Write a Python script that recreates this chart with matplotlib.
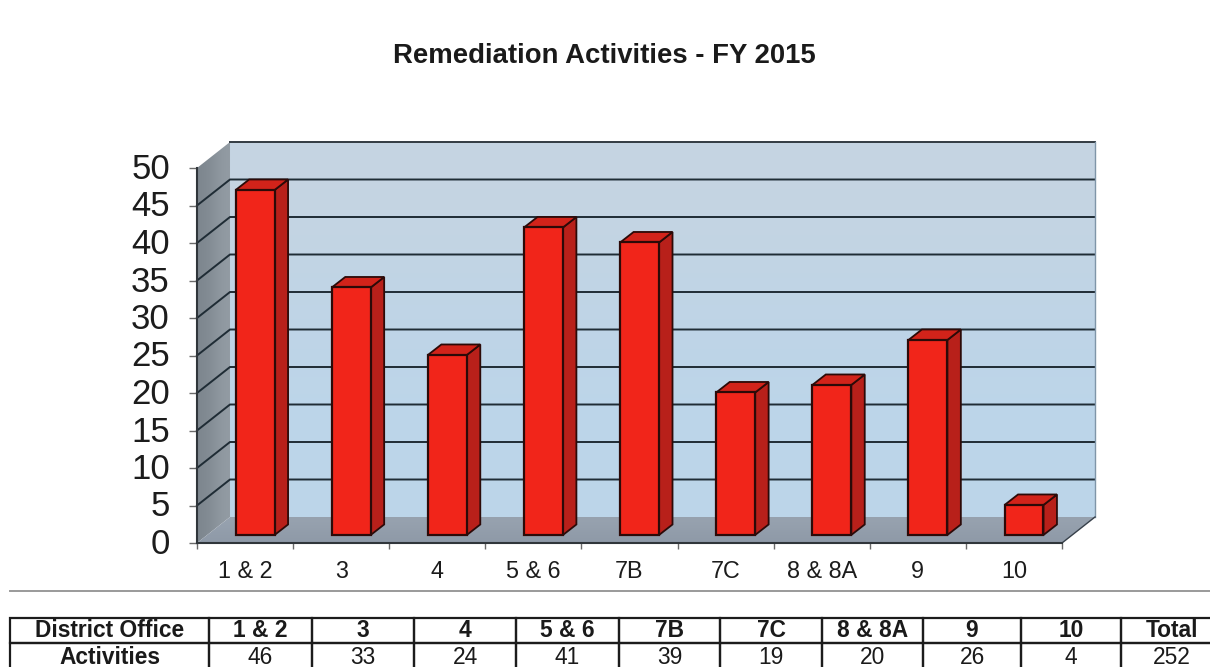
import numpy as np
import matplotlib
matplotlib.use("Agg")
import matplotlib.pyplot as plt
from matplotlib.patches import Polygon
from matplotlib.transforms import ScaledTranslation

plt.rcParams['font.family'] = ['Liberation Sans', 'DejaVu Sans']

offices = ['1 & 2', '3', '4', '5 & 6', '7B', '7C', '8 & 8A', '9', '10']
activities = [46, 33, 24, 41, 39, 19, 20, 26, 4]
total = 252
y_ticks = [0, 5, 10, 15, 20, 25, 30, 35, 40, 45, 50]

W, H = 1210, 667
# 3d look: how far the back wall sits from the front plane, in data units
depth_x = 33 / 96.1
depth_y = 26 / 7.5
bar_w = 0.405
bar_shift_x = 0.105
bar_shift_y = 1.07
bar_dx = 0.14
bar_dy = 1.4


def shade(ax, pts, colors, horizontal=False):
    """Polygon filled with a linear gradient between colors"""
    poly = Polygon(pts, closed=True, fc='none', ec='none', transform=ax.transData, clip_on=False)
    ax.add_patch(poly)
    rgb = np.array([matplotlib.colors.to_rgb(c) for c in colors])
    grad = rgb[:, None, :] if not horizontal else rgb[None, :, :]
    xs = [p[0] for p in pts]
    ys = [p[1] for p in pts]
    im = ax.imshow(grad, extent=[min(xs), max(xs), min(ys), max(ys)], origin='lower',
                   aspect='auto', interpolation='bicubic', zorder=1)
    # the walls stick out of the axes box
    im.set_clip_box(fig.bbox)
    im.set_clip_path(poly)


fig = plt.figure(figsize=(W / 100, H / 100), dpi=100, facecolor='white')
ax = fig.add_axes([197 / W, (H - 543) / H, 865 / W, 375 / H])

# walls and floor
shade(ax, [(depth_x, depth_y), (9 + depth_x, depth_y), (9 + depth_x, 50 + depth_y), (depth_x, 50 + depth_y)],
      ['#bcd6ea', '#bdd5e9', '#c0d4e5', '#c6d5e2'])
shade(ax, [(0, 0), (depth_x, depth_y), (depth_x, 50 + depth_y), (0, 50)],
      ['#7d868e', '#939ca4'], horizontal=True)
shade(ax, [(0, 0), (9, 0), (9 + depth_x, depth_y), (depth_x, depth_y)],
      ['#8f9aa8', '#97a2af'])

grid_c = '#1f2c35'
for v in y_ticks[1:-1]:
    ax.plot([0, depth_x, 9 + depth_x], [v, v + depth_y, v + depth_y], color=grid_c, lw=1.4, zorder=2,
            clip_on=False)
ax.plot([depth_x, 9 + depth_x], [50 + depth_y] * 2, color='#333b42', lw=1.4, zorder=2, clip_on=False)
ax.plot([9 + depth_x, 9 + depth_x], [depth_y, 50 + depth_y], color='#7f95a8', lw=1.0, zorder=2, clip_on=False)
ax.plot([9, 9 + depth_x], [0, depth_y], color='#37404a', lw=1.0, zorder=2, clip_on=False)

# bars
edge = '#2c0a08'
for i, val in enumerate(activities):
    x0 = i + (1 - bar_w) / 2 + bar_shift_x
    x1 = x0 + bar_w
    y0 = bar_shift_y
    y1 = y0 + val
    ax.add_patch(Polygon([(x1, y0), (x1 + bar_dx, y0 + bar_dy), (x1 + bar_dx, y1 + bar_dy), (x1, y1)],
                         fc='#b8201a', ec=edge, lw=1.3, zorder=3, clip_on=False))
    ax.add_patch(Polygon([(x0, y1), (x1, y1), (x1 + bar_dx, y1 + bar_dy), (x0 + bar_dx, y1 + bar_dy)],
                         fc='#d2231a', ec=edge, lw=1.3, zorder=3, clip_on=False))
    ax.add_patch(Polygon([(x0, y0), (x1, y0), (x1, y1), (x0, y1)],
                         fc='#f1251a', ec=edge, lw=1.6, zorder=4, clip_on=False))

ax.set_xlim(0, 9)
ax.set_ylim(0, 50)
ax.patch.set_visible(False)
for s in ['top', 'right']:
    ax.spines[s].set_visible(False)
for s in ['left', 'bottom']:
    ax.spines[s].set_color('#30363b')
    ax.spines[s].set_linewidth(1.5)
    ax.spines[s].set_zorder(5)

ax.set_yticks(y_ticks)
ax.tick_params(axis='y', direction='out', length=6, width=1, color='#6a6a6a', pad=13.5,
               labelsize=25, labelcolor='#1c1c1c')
for lbl in ax.get_yticklabels():
    lbl.set_transform(lbl.get_transform() + ScaledTranslation(0, 2 / 100, fig.dpi_scale_trans))
ax.set_xticks(np.arange(10))
ax.set_xticklabels([])
ax.tick_params(axis='x', which='major', direction='out', length=4, width=1, color='#6a6a6a')
ax.set_xticks(np.arange(9) + 0.5, minor=True)
ax.set_xticklabels(offices, minor=True)
ax.tick_params(axis='x', which='minor', length=0, pad=12.5, labelsize=16.8, labelcolor='#1c1c1c')

fig.text(604 / W, 1 - 56 / H, 'Remediation Activities - FY 2015', ha='center', va='center',
         fontsize=19.8, fontweight='bold', color='#1a1a1a')

# rule above the table
fig.add_artist(plt.Line2D([10 / W, 1], [1 - 591 / H] * 2, color='#9a9a9a', lw=1.4))

# table, last column and last row run off the page
col_edges = np.array([10, 209, 312, 414, 516, 619, 720, 822, 923, 1021, 1121, 1222])
tab_ax = fig.add_axes([10 / W, (H - 671) / H, 1212 / W, 53 / H])
tab_ax.axis('off')
rows = [['District Office'] + offices + ['Total'],
        ['Activities'] + [str(v) for v in activities] + [str(total)]]
tab = tab_ax.table(cellText=rows, colWidths=list(np.diff(col_edges) / 1212), bbox=[0, 0, 1, 1],
                   cellLoc='center')
tab.auto_set_font_size(False)
for (r, c), cell in tab.get_celld().items():
    cell.set_height(25 / 53 if r == 0 else 28 / 53)
    cell.set_linewidth(1.6)
    cell.set_edgecolor('#1c1c1c')
    cell.set_facecolor('none')
    bold = r == 0 or c == 0
    cell.get_text().set_fontsize(16.4)
    cell.get_text().set_fontweight('bold' if bold else 'normal')
    cell.get_text().set_color('#1a1a1a')

fig.savefig('out.png', dpi=100)
